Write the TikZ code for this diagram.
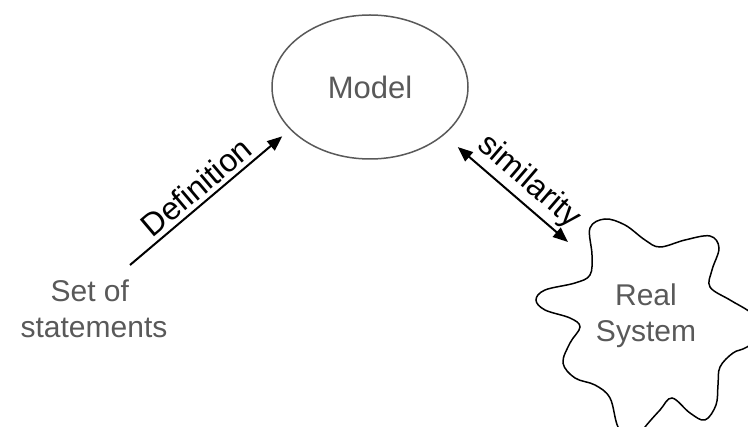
\documentclass[tikz,border=0pt]{standalone}
\usepackage{fontspec}
\setmainfont{Liberation Sans}
\usetikzlibrary{arrows.meta,shapes.geometric}
\definecolor{txtgrey}{HTML}{595959}
\begin{document}
\begin{tikzpicture}[x=1pt,y=-1pt,
  lbl/.style={font=\fontsize{30}{36}\selectfont, text=txtgrey, align=center, inner sep=0pt},
  arrlbl/.style={font=\fontsize{32}{38}\selectfont, text=black, sloped, above=4pt, inner sep=0pt},
  arr/.style={line width=2pt, -{Triangle[length=15pt,width=12pt]}},
  darr/.style={line width=2pt, {Triangle[length=15pt,width=12pt]}-{Triangle[length=15pt,width=12pt]}},
  cloudline/.style={line width=1.5pt, draw=black}]
\useasboundingbox (0,0) rectangle (748,427);
% Model
\node[ellipse, draw=txtgrey, line width=1.5pt, minimum width=196pt, minimum height=144pt,
      inner sep=0pt, outer sep=0pt, font=\fontsize{31}{36}\selectfont, text=txtgrey] (model) at (370,87) {Model};
% Set of statements
\node[lbl] (stmts) at (94,309) {Set of\kern0.28em\\statements};
% Real system cloud
\begin{scope}
\clip (0,0) rectangle (748,427);
\draw[cloudline] plot[smooth cycle, tension=0.6] coordinates {
  (590,228) (605,219) (625,225) (645,240) (660,247) (685,240) (710,236) (719,248)
  (712,270) (710,287) (730,300) (750,312) (770,330) (747,347) (733,353) (720,367)
  (718,385) (716,405) (705,420) (690,413) (672,398) (660,410) (645,427) (632,445)
  (618,427) (610,398) (595,385) (575,378) (563,363) (570,343) (580,327) (570,318)
  (545,310) (536,300) (545,290) (575,283) (590,275) (592,255)};
\end{scope}
\node[lbl] (real) at (646,316) {Real\\System};
% Connectors
\coordinate (defstart) at (130,265);
\coordinate (simend) at (568,242);
\draw[arr, shorten >=11pt] (defstart) -- node[arrlbl, pos=0.48] {Definition} (model.208);
\draw[darr, shorten <=19pt] (model.327) -- node[arrlbl, pos=0.58] {similarity} (simend);
\end{tikzpicture}
\end{document}
